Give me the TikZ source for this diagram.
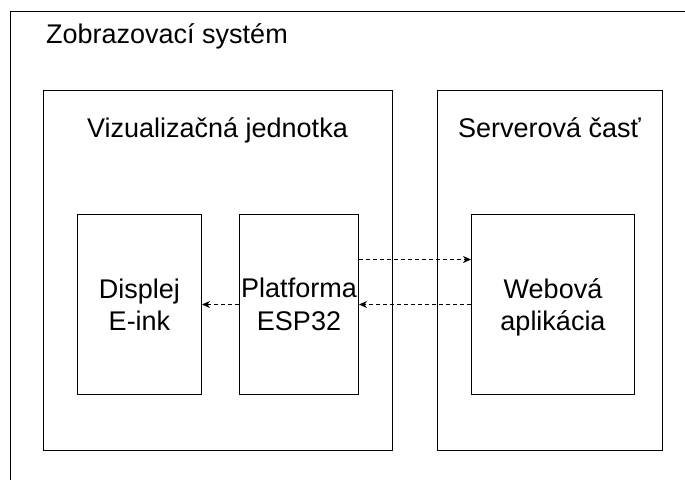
\documentclass[tikz,border=0pt]{standalone}
\usepackage{fontspec}
\setmainfont{Liberation Sans}
\usetikzlibrary{arrows.meta}
\begin{document}
\begin{tikzpicture}[x=1pt,y=-1pt,
  box/.style={draw, line width=1pt, inner sep=0pt, align=center, font=\fontsize{27}{32.5}\selectfont},
  ttl/.style={font=\fontsize{27}{32.5}\selectfont, inner sep=0pt},
  link/.style={draw, line width=0.9pt, dash pattern=on 4pt off 3pt, -{Stealth[length=8pt,width=7pt,inset=2.5pt]}}]
\useasboundingbox (0,0) rectangle (685,479);
\clip (0,0) rectangle (685,479);
\node[box, minimum width=710pt, minimum height=510pt, anchor=north west] (sys) at (10,11) {};
\node[ttl, anchor=base west] (sysT) at (46,43.5) {Zobrazovací systém};
\node[box, minimum width=349pt, minimum height=360pt, anchor=north west] (viz) at (43,90) {};
\node[ttl, anchor=base] (vizT) at (217.5,137.3) {Vizualizačná jednotka};
\node[box, minimum width=225pt, minimum height=360pt, anchor=north west] (srv) at (437,90) {};
\node[ttl, anchor=base] (srvT) at (549.5,137.3) {Serverová časť};
\node[box, minimum width=124pt, minimum height=180pt, anchor=north west] (disp) at (77,214) {Displej\\E-ink};
\node[box, minimum width=119pt, minimum height=180pt, anchor=north west] (plat) at (239,214) {Platforma\\ESP32};
\node[box, minimum width=163pt, minimum height=180pt, anchor=north west] (web) at (471,214) {Webová\\\smash{aplikácia}};
\draw[link] ([yshift=45pt]plat.east) -- ([yshift=45pt]web.west);
\draw[link] (web.west) -- (plat.east);
\draw[link] (plat.west) -- (disp.east);
\end{tikzpicture}
\end{document}
